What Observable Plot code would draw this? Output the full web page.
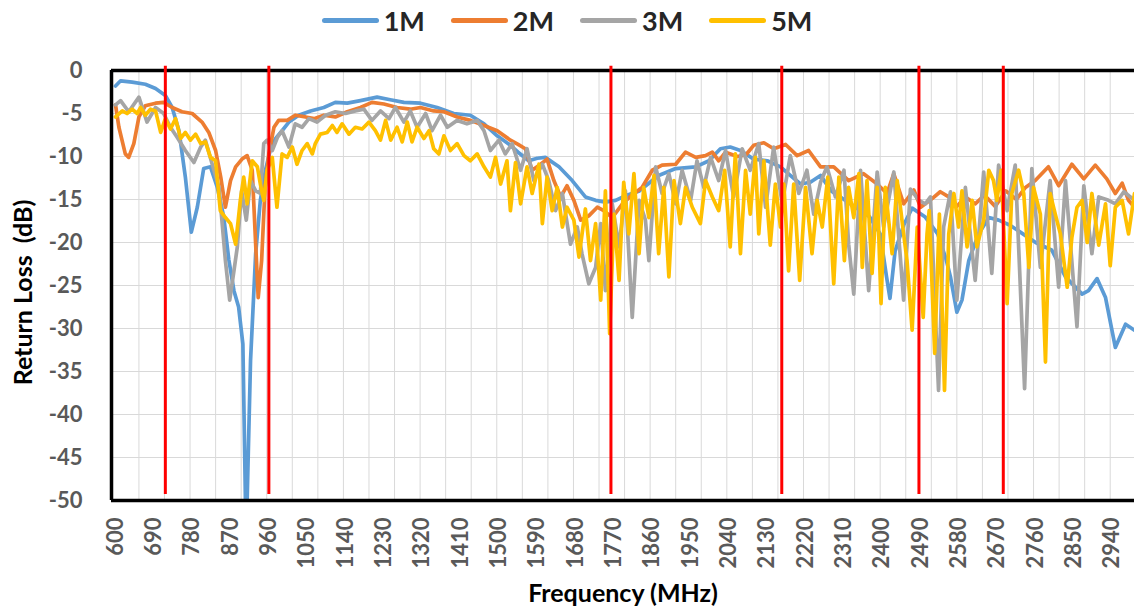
<!DOCTYPE html>
<html><head><meta charset="utf-8">
<script src="https://cdn.jsdelivr.net/npm/d3@7"></script>
<script src="https://cdn.jsdelivr.net/npm/@observablehq/plot@0.6"></script>
<style>
body{margin:0;background:#fff;font-family:Lato,"Liberation Sans",sans-serif;}
#legend{height:40px;display:flex;justify-content:center;align-items:center;gap:26px;}
.item{display:flex;align-items:center;font-weight:bold;font-size:27px;color:#262626;line-height:1;}
.sw{width:57px;height:5px;border-radius:3px;margin-right:5px;}
</style></head><body>
<div id="legend"></div>
<div id="chart"></div>
<script>
const seriesNames = ["1M", "2M", "3M", "5M"];
const seriesColors = ["#5b9bd5", "#ed7d31", "#a5a5a5", "#ffc000"];
const bandEdges = [717, 960, 1763, 2164, 2486, 2684];
const xTickValues = [600,690,780,870,960,1050,1140,1230,1320,1410,1500,1590,1680,1770,1860,1950,2040,2130,2220,2310,2400,2490,2580,2670,2760,2850,2940];
const yTickValues = [0,-5,-10,-15,-20,-25,-30,-35,-40,-45,-50];

const f1M = [600,612,639,670,694,717,733,749,764,778,792,807,823,839,854,866,878,889,899,905,909,917,929,940,952,964,976,991,1007,1030,1058,1089,1116,1144,1175,1214,1245,1277,1316,1355,1394,1433,1465,1496,1527,1545,1570,1590,1609,1641,1672,1703,1727,1750,1774,1800,1830,1855,1875,1915,1962,1993,2020,2043,2067,2098,2130,2161,2184,2208,2231,2255,2280,2310,2340,2370,2395,2410,2418,2430,2450,2470,2500,2530,2550,2560,2575,2587,2603,2626,2650,2673,2700,2730,2760,2798,2830,2869,2884,2904,2924,2947,2971,2992];
const rl1M = [-1.8,-1.2,-1.35,-1.6,-2.1,-2.9,-4.3,-7.0,-12.4,-18.8,-15.9,-11.4,-11.2,-13.6,-17,-22,-25.6,-27.5,-31.8,-50,-50,-33.7,-21.3,-15.1,-11.6,-9.1,-7.9,-7.0,-6.0,-5.2,-4.7,-4.3,-3.7,-3.8,-3.5,-3.1,-3.4,-3.7,-3.8,-4.3,-5.0,-5.2,-6.2,-7.6,-8.7,-9.5,-10.5,-10.2,-10.1,-11.2,-12.8,-14.7,-15.1,-15.3,-15.1,-14.5,-14,-13,-12.2,-11.4,-11.2,-10.5,-9.1,-8.9,-9.3,-10.3,-10.5,-11.2,-12.2,-13.2,-13,-12.2,-14,-15,-16,-17,-19,-24,-26.5,-21,-18,-16,-17,-19,-22,-24,-28.1,-26.7,-22.1,-19,-17.1,-17.4,-18,-19,-20,-20.9,-24,-26,-25.6,-24.2,-26.4,-32.2,-29.5,-30.2];

const f2M = [600,608,623,631,643,655,670,694,713,733,756,780,803,819,835,847,858,870,882,897,909,921,929,935,943,951,960,972,983,1003,1022,1046,1066,1089,1116,1144,1175,1202,1230,1261,1292,1316,1347,1371,1402,1433,1465,1496,1527,1545,1562,1578,1598,1613,1629,1645,1660,1676,1692,1711,1731,1746,1766,1790,1812,1836,1860,1883,1915,1938,1962,1985,2001,2016,2032,2060,2080,2098,2122,2145,2173,2200,2227,2255,2286,2321,2356,2388,2411,2427,2450,2474,2490,2501,2517,2536,2556,2575,2595,2618,2640,2665,2690,2715,2736,2759,2790,2814,2845,2873,2900,2927,2947,2963,2978,2992];
const rl2M = [-4,-6.6,-9.7,-10.1,-8.5,-5.4,-4.1,-3.8,-3.7,-4.3,-4.8,-5.0,-6.0,-7.2,-9.3,-12.4,-15.9,-12.8,-11.2,-10.3,-9.9,-11.6,-20.2,-26.4,-22.1,-13.6,-9.7,-6.6,-5.8,-5.8,-5.2,-5.4,-5.6,-5.2,-5.4,-4.8,-4.3,-3.7,-3.9,-4.3,-4.5,-4.3,-4.7,-4.8,-5.4,-5.8,-6.4,-7.0,-8.1,-8.6,-9.1,-11.6,-10.9,-10.3,-12.8,-14.7,-13.4,-15.1,-17.4,-16.9,-15.9,-16.3,-17.1,-15.5,-14.5,-13.6,-11.6,-11.0,-10.9,-9.5,-10.1,-9.9,-9.5,-10.5,-9.5,-10.0,-9.8,-8.7,-8.4,-9.1,-8.6,-9.9,-9.3,-11.2,-11.2,-12.8,-12.0,-13.2,-14.3,-12.0,-15.5,-13.9,-15.9,-15.5,-14.9,-14.1,-14.7,-15.8,-14.7,-15.5,-14.5,-15.8,-14,-15,-13.6,-12.8,-11.2,-13.4,-10.9,-12.6,-11.0,-12.6,-14.3,-13.1,-15.1,-15.9];

const f3M = [600,612,631,655,674,694,713,729,745,764,784,800,811,827,843,858,868,878,886,896,907,917,929,940,948,956,968,980,991,1007,1022,1038,1054,1073,1093,1116,1140,1163,1183,1202,1222,1242,1257,1277,1292,1308,1328,1343,1363,1379,1402,1425,1449,1465,1480,1500,1515,1531,1551,1566,1582,1602,1617,1633,1649,1668,1684,1695,1711,1727,1739,1750,1766,1782,1797,1813,1829,1844,1852,1868,1883,1899,1915,1930,1950,1965,1981,1997,2016,2032,2051,2071,2090,2110,2126,2145,2165,2184,2204,2223,2239,2255,2270,2290,2310,2321,2333,2349,2368,2388,2403,2427,2450,2466,2486,2501,2513,2532,2544,2560,2575,2595,2618,2638,2657,2673,2693,2712,2734,2751,2771,2794,2814,2830,2857,2873,2892,2908,2931,2947,2967,2992];
const rl3M = [-4.0,-3.5,-4.8,-3.1,-6.0,-4.3,-5.0,-6.6,-7.8,-9.3,-10.7,-8.9,-8.1,-10.9,-13.6,-22.1,-26.7,-23.3,-20.5,-14.0,-17.4,-12.8,-14.0,-14.3,-8.5,-8.1,-9.3,-7.8,-7.0,-8.9,-6.2,-6.6,-5.6,-6.0,-5.2,-4.8,-5.0,-4.7,-4.5,-5.8,-4.7,-5.6,-4.3,-6.0,-4.7,-6.6,-5.0,-7.0,-5.2,-6.6,-5.8,-6.2,-5.8,-7.0,-9.3,-8.1,-9.7,-8.5,-11.6,-9.1,-12.8,-10.9,-12.8,-16.3,-14.3,-20.2,-18.2,-21.3,-24.8,-22.9,-17.8,-25.6,-15.5,-20.5,-14.0,-28.7,-15.1,-17.4,-22.1,-11.2,-14.3,-12.0,-15.5,-11.6,-15.1,-10.5,-13.6,-10.1,-12.8,-9.3,-14.7,-9.1,-11.6,-8.5,-15.9,-8.9,-15.5,-9.9,-14.3,-11.6,-16.7,-13,-11.2,-14.7,-11.6,-20.2,-26.0,-11.6,-25.6,-11.8,-18.2,-11.8,-26.7,-13.8,-15.1,-15.5,-14.7,-37.2,-18.2,-14.1,-26.7,-13.6,-24.4,-11.8,-23.6,-11.0,-16.3,-11.0,-37.0,-11.4,-22.9,-12.8,-25.2,-12.8,-29.8,-13.4,-21.3,-14.7,-15.1,-15.5,-14.1,-15.1];

const f5M = [600,616,627,639,651,659,670,682,694,706,717,729,741,753,764,776,788,800,811,823,835,846,858,870,882,893,901,909,921,933,940,948,956,968,979,991,1003,1015,1026,1038,1050,1062,1069,1081,1097,1109,1120,1132,1148,1163,1179,1195,1210,1222,1234,1246,1261,1273,1285,1296,1308,1324,1336,1347,1359,1371,1386,1402,1418,1433,1449,1465,1480,1492,1504,1519,1527,1539,1551,1566,1578,1594,1602,1613,1625,1637,1649,1660,1676,1688,1703,1715,1727,1739,1750,1760,1770,1782,1793,1805,1817,1829,1840,1852,1864,1875,1887,1899,1911,1926,1938,1954,1973,1985,2001,2016,2030,2043,2055,2067,2079,2090,2102,2110,2122,2137,2149,2161,2169,2180,2192,2206,2220,2235,2247,2259,2272,2286,2298,2311,2321,2333,2345,2353,2364,2376,2388,2397,2407,2423,2435,2450,2458,2470,2482,2496,2505,2510,2523,2534,2546,2556,2568,2579,2587,2599,2611,2622,2638,2650,2661,2669,2679,2693,2704,2720,2732,2744,2755,2771,2783,2794,2806,2818,2834,2845,2857,2869,2881,2892,2908,2924,2935,2947,2963,2978,2992];
const rl5M = [-5.4,-4.7,-5.0,-4.5,-5.0,-4.3,-5.2,-4.5,-4.7,-7.2,-5.6,-6.8,-5.6,-7.9,-7.2,-8.1,-7.4,-8.5,-8.3,-10.1,-10.5,-16.3,-17.1,-17.8,-20.2,-15.1,-12.4,-15.5,-10.5,-11.2,-13.2,-15.1,-11.6,-10.1,-15.9,-9.7,-10.1,-8.9,-10.9,-9.3,-8.5,-9.7,-8.5,-7.4,-7.2,-6.4,-7.2,-6.2,-7.4,-6.6,-6.8,-6.0,-7.0,-8.1,-5.8,-8.1,-6.6,-8.3,-6.0,-8.3,-6.6,-7.9,-7.0,-9.1,-9.7,-7.6,-9.3,-8.5,-9.9,-10.5,-9.7,-11.2,-12.4,-10.1,-13.2,-10.5,-16.3,-10.7,-15.5,-11.2,-14.3,-10.9,-17.8,-12.4,-16.3,-13.6,-18.2,-15.9,-17.4,-21.7,-16.1,-22.1,-17.8,-26.7,-14.0,-30.6,-16.7,-24.4,-13.0,-19.0,-12.0,-21.3,-13.6,-17.1,-12.2,-21.3,-13.6,-24.0,-12.8,-17.8,-13.6,-15.9,-17.8,-12.8,-14.7,-16.3,-11.6,-20.5,-9.7,-21.3,-11.6,-16.7,-10.1,-19.0,-10.5,-20.3,-13.2,-18.2,-13.2,-23.3,-13.2,-24.4,-13.6,-21.3,-15.1,-18.2,-12.4,-24.8,-12.4,-22.1,-13.6,-17.1,-12.0,-22.9,-12.8,-23.6,-13.6,-27.1,-13.6,-21.3,-12.8,-19.0,-22.1,-30.2,-18.2,-28.7,-19.0,-16.3,-32.9,-16.7,-37.2,-19.0,-14.3,-18.2,-14.0,-20.5,-15.1,-20.5,-17.4,-11.6,-12.8,-15.1,-11.6,-27.1,-14.3,-11.6,-14.3,-22.9,-13.6,-16.7,-33.9,-14.3,-16.7,-19.0,-25.2,-19.4,-15.9,-15.1,-20.0,-14.3,-20.3,-15.5,-22.7,-15.9,-15.1,-19.0,-14.3];

const freqs = [f1M, f2M, f3M, f5M];
const values = [rl1M, rl2M, rl3M, rl5M];
const rows = seriesNames.flatMap((s, i) => freqs[i].map((f, j) => ({series: s, f, rl: values[i][j]})));

// legend
const legend = document.getElementById("legend");
seriesNames.forEach((s, i) => {
  const it = document.createElement("div"); it.className = "item";
  const sw = document.createElement("span"); sw.className = "sw"; sw.style.background = seriesColors[i];
  it.appendChild(sw); it.appendChild(document.createTextNode(s));
  legend.appendChild(it);
});

const xLeft = 590.6, xRight = 2992;
const vGrid = d3.range(655, xRight, 60);
const hGrid = d3.range(-45, 0, 5);

const chart = Plot.plot({
  width: 1134, height: 573,
  marginTop: 30, marginBottom: 113, marginLeft: 111, marginRight: 0,
  style: {fontFamily: "Lato, 'Liberation Sans', sans-serif", background: "#fff"},
  x: {domain: [xLeft, xRight]},
  y: {domain: [-50, 0]},
  color: {domain: seriesNames, range: seriesColors},
  marks: [
    Plot.ruleY(hGrid, {stroke: "#d9d9d9", strokeWidth: 1}),
    Plot.ruleX(vGrid, {y1: 0, y2: -50, stroke: "#d9d9d9", strokeWidth: 1}),
    Plot.line(rows, {x: "f", y: "rl", z: "series", stroke: "series", strokeWidth: 3.7, strokeLinejoin: "round", strokeLinecap: "round", clip: true}),
    Plot.ruleY([0, -50], {x1: xLeft, x2: xRight, stroke: "#000", strokeWidth: 3.5}),
    Plot.ruleX([xLeft], {y1: 0, y2: -50, stroke: "#000", strokeWidth: 3.5}),
    Plot.ruleX(bandEdges, {y1: 0.5, y2: -49.3, stroke: "#ff0000", strokeWidth: 3}),
    Plot.axisY({ticks: yTickValues, tickSize: 0, tickPadding: 29, tickFormat: d => String(d), fontSize: 22, fontWeight: "bold", color: "#595959", label: null}),
    Plot.axisX({ticks: xTickValues, tickSize: 0, tickPadding: 17, tickRotate: -90, tickFormat: d => String(d), fontSize: 22, fontWeight: "bold", color: "#595959", label: null}),
    Plot.text(["Return Loss  (dB)"], {frameAnchor: "left", textAnchor: "middle", dx: -88, dy: 7, rotate: -90, fontSize: 25, fontWeight: "bold", fill: "#000"}),
    Plot.text(["Frequency (MHz)"], {frameAnchor: "bottom", textAnchor: "middle", dx: 0, dy: 101, fontSize: 25, fontWeight: "bold", fill: "#000"})
  ]
});
document.getElementById("chart").appendChild(chart);
</script>
</body></html>
